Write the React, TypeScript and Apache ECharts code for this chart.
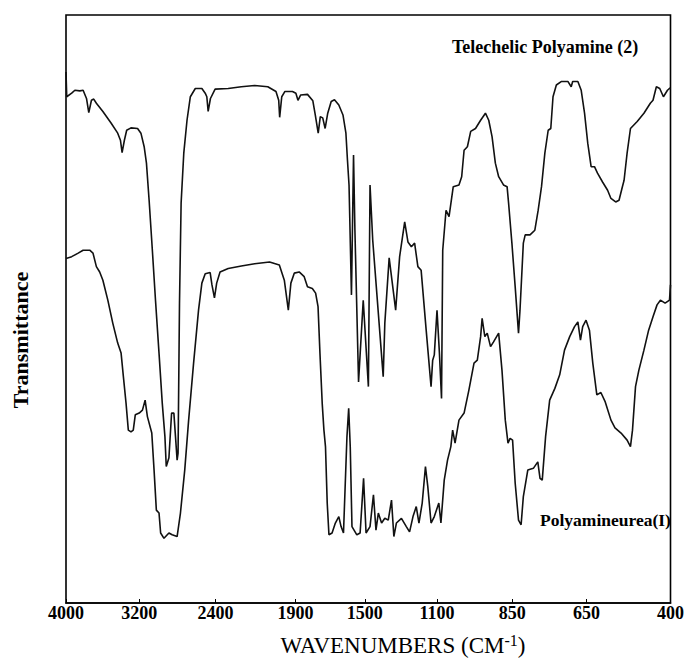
import React, { useEffect, useRef } from "react";
import * as echarts from "echarts";

// Axis ticks (wavenumber scale of the instrument is not linear: ticks sit at these positions)
const TICK_WAVENUMBERS = [4000, 3200, 2400, 1900, 1500, 1100, 850, 650, 400];
const TICK_LABELS = ["4000", "3200", "2400", "1900", "1500", "1100", "850", "650", "400"];
const TICK_POSITIONS = [0, 74, 151, 232, 302, 375, 451, 526, 611];

// [wavenumber (cm-1), transmittance (arb. %)]
const TELECHELIC: [number, number][] = [
  [4000, 90.3], [3992, 86.1], [3938, 86.7], [3903, 87.2], [3849, 87.1], [3813, 87.2], [3776, 85.8], [3751, 83.4],
  [3722, 85.5], [3697, 85.7], [3668, 85.0], [3597, 83.6], [3506, 81.6], [3435, 79.9], [3405, 78.7], [3387, 76.6],
  [3362, 78.7], [3337, 80.4], [3290, 80.8], [3218, 80.7], [3182, 79.9], [3148, 77.6], [3124, 74.8], [3096, 68.5],
  [3062, 60.0], [3029, 51.5], [2992, 42.5], [2958, 34.0], [2930, 28.3], [2916, 23.2], [2888, 24.7], [2860, 32.3],
  [2836, 32.3], [2819, 28.3], [2802, 24.3], [2792, 25.5], [2777, 51.0], [2760, 68.0], [2732, 76.5], [2698, 82.1],
  [2663, 86.1], [2611, 87.5], [2542, 87.5], [2507, 86.7], [2490, 86.1], [2476, 83.6], [2452, 85.8], [2403, 87.4],
  [2320, 87.5], [2238, 87.8], [2155, 88.0], [2073, 87.8], [2022, 87.0], [2005, 85.5], [1999, 82.6], [1986, 86.1],
  [1966, 87.0], [1919, 87.0], [1898, 86.7], [1886, 85.5], [1870, 86.4], [1831, 86.5], [1800, 85.4], [1786, 83.0],
  [1769, 79.9], [1757, 82.7], [1743, 82.5], [1729, 80.7], [1714, 83.3], [1694, 85.3], [1675, 85.6], [1650, 84.7],
  [1626, 83.0], [1609, 79.9], [1600, 75.3], [1591, 71.1], [1577, 52.4], [1565, 76.2], [1557, 63.4], [1536, 37.6],
  [1509, 51.5], [1480, 36.8], [1471, 71.1], [1456, 61.7], [1398, 38.5], [1389, 47.6], [1365, 58.7], [1329, 49.8],
  [1307, 58.9], [1279, 64.8], [1261, 61.4], [1242, 60.6], [1224, 61.2], [1206, 57.2], [1188, 56.6], [1160, 46.4],
  [1133, 36.8], [1124, 41.3], [1115, 42.2], [1100, 49.8], [1092, 42.5], [1085, 34.8], [1081, 60.0], [1070, 66.8],
  [1060, 65.7], [1046, 70.8], [1027, 71.1], [1018, 72.5], [1010, 77.0], [999, 77.6], [988, 80.2], [972, 80.7],
  [955, 82.1], [939, 83.3], [928, 82.1], [917, 79.3], [906, 74.8], [895, 72.5], [879, 71.1], [867, 70.8],
  [862, 68.0], [851, 61.2], [842, 53.8], [833, 45.9], [829, 49.8], [820, 61.2], [815, 62.6], [802, 62.6],
  [789, 63.4], [780, 66.8], [771, 70.8], [762, 76.5], [753, 80.4], [746, 80.7], [740, 86.1], [731, 88.1],
  [717, 88.7], [700, 88.7], [691, 87.8], [687, 88.7], [673, 88.7], [664, 87.2], [655, 83.3], [646, 78.2],
  [636, 74.2], [626, 74.2], [617, 73.1], [602, 71.6], [587, 70.2], [577, 68.8], [563, 68.2], [553, 68.5],
  [543, 70.8], [538, 71.9], [529, 76.5], [519, 80.7], [499, 81.9], [479, 83.3], [460, 85.0], [452, 85.5],
  [442, 87.8], [432, 87.5], [421, 86.1], [409, 87.2], [401, 87.6],
];

const POLYAMINEUREA: [number, number][] = [
  [4000, 58.6], [3938, 58.9], [3867, 59.5], [3813, 60.0], [3741, 60.0], [3705, 59.5], [3668, 57.2], [3632, 56.3],
  [3597, 54.9], [3543, 51.5], [3489, 47.6], [3435, 44.2], [3398, 42.5], [3373, 38.5], [3344, 34.0], [3319, 29.4],
  [3290, 29.1], [3265, 29.4], [3243, 32.0], [3200, 32.3], [3166, 32.8], [3138, 34.5], [3114, 31.7], [3068, 28.9],
  [3044, 22.6], [3020, 15.8], [2992, 15.3], [2975, 11.9], [2940, 11.0], [2888, 11.9], [2854, 11.6], [2802, 11.3],
  [2767, 15.3], [2722, 22.6], [2681, 31.1], [2629, 40.8], [2577, 49.8], [2542, 54.4], [2507, 56.0], [2455, 56.2],
  [2436, 54.1], [2410, 51.9], [2392, 54.4], [2371, 56.3], [2320, 56.9], [2238, 57.3], [2155, 57.7], [2062, 58.0],
  [2001, 57.5], [1970, 54.9], [1945, 49.8], [1929, 54.4], [1908, 56.1], [1879, 56.3], [1850, 55.5], [1831, 53.8],
  [1803, 53.5], [1784, 52.7], [1770, 50.4], [1759, 42.5], [1746, 34.0], [1736, 29.4], [1727, 26.6], [1717, 17.0],
  [1707, 11.6], [1689, 11.9], [1670, 13.6], [1650, 14.7], [1637, 13.0], [1623, 11.9], [1603, 28.3], [1593, 33.1],
  [1584, 26.6], [1574, 13.0], [1546, 11.6], [1527, 11.9], [1507, 21.2], [1493, 11.9], [1471, 13.0], [1452, 18.4],
  [1438, 12.4], [1425, 15.3], [1407, 13.6], [1389, 14.4], [1370, 14.1], [1352, 17.5], [1339, 11.3], [1325, 13.6],
  [1297, 14.4], [1270, 13.0], [1252, 12.1], [1233, 14.7], [1215, 16.4], [1200, 13.6], [1182, 17.0], [1164, 23.2],
  [1151, 19.8], [1133, 13.6], [1115, 14.7], [1094, 17.0], [1087, 13.6], [1076, 20.9], [1065, 24.3], [1054, 26.6],
  [1048, 29.4], [1040, 27.2], [1027, 31.1], [1010, 32.3], [994, 36.2], [977, 40.8], [966, 41.3], [955, 45.3],
  [950, 48.4], [941, 45.3], [933, 45.9], [922, 43.6], [912, 44.4], [895, 45.9], [884, 39.6], [873, 31.1],
  [864, 27.2], [857, 28.0], [849, 27.7], [842, 20.4], [833, 14.1], [826, 13.3], [820, 18.1], [808, 22.6],
  [793, 22.9], [781, 24.0], [775, 21.2], [769, 20.9], [760, 28.3], [749, 34.5], [735, 36.5], [722, 38.8],
  [709, 43.0], [695, 45.3], [682, 47.0], [673, 47.8], [666, 44.7], [660, 47.0], [651, 48.1], [641, 46.4],
  [631, 40.8], [619, 35.4], [607, 35.8], [594, 34.2], [577, 31.1], [565, 29.8], [547, 28.9], [529, 27.7],
  [519, 26.6], [513, 29.4], [504, 36.8], [494, 39.6], [479, 43.0], [465, 46.4], [452, 48.7], [440, 50.7],
  [430, 51.5], [416, 51.0], [403, 51.5], [400, 54.1],
];

const SERIES_NAMES = ["Telechelic Polyamine (2)", "Polyamineurea(I)"];

function wnToPos(w: number): number {
  const W = TICK_WAVENUMBERS;
  const P = TICK_POSITIONS;
  for (let i = 0; i < W.length - 1; i++) {
    const a = W[i];
    const b = W[i + 1];
    if (w <= a && w >= b) return P[i] + ((a - w) / (a - b)) * (P[i + 1] - P[i]);
  }
  return w > W[0] ? P[0] : P[P.length - 1];
}

const SERIF = "'Liberation Serif', 'Times New Roman', serif";

export default function App() {
  const ref = useRef<HTMLDivElement>(null);
  useEffect(() => {
    if (!ref.current) return;
    const chart = echarts.init(ref.current, undefined, { renderer: "svg" });
    const toData = (arr: [number, number][]) => arr.map(([w, t]) => [wnToPos(w), t]);
    chart.setOption({
      animation: false,
      backgroundColor: "#fff",
      grid: {
        left: 66,
        right: 10,
        top: 15,
        bottom: 66,
        show: true,
        borderColor: "#000",
        borderWidth: 1.6,
        backgroundColor: "transparent",
      },
      xAxis: {
        type: "value",
        min: 0,
        max: TICK_POSITIONS[TICK_POSITIONS.length - 1],
        axisLine: { show: true, lineStyle: { color: "#000", width: 1.6 } },
        axisTick: {
          show: true,
          inside: true,
          length: 4,
          customValues: TICK_POSITIONS,
          lineStyle: { color: "#000", width: 1 },
        },
        axisLabel: {
          customValues: TICK_POSITIONS,
          formatter: (v: number) => {
            const i = TICK_POSITIONS.indexOf(v);
            return i >= 0 ? TICK_LABELS[i] : "";
          },
          color: "#000",
          fontFamily: SERIF,
          fontWeight: "bold",
          fontSize: 18,
          margin: 1,
        },
        splitLine: { show: false },
      },
      yAxis: {
        type: "value",
        min: 0,
        max: 100,
        axisLine: { show: false },
        axisTick: { show: false },
        axisLabel: { show: false },
        splitLine: { show: false },
      },
      series: [
        {
          name: SERIES_NAMES[0],
          type: "line",
          data: toData(TELECHELIC),
          showSymbol: false,
          lineStyle: { color: "#111", width: 1.6 },
        },
        {
          name: SERIES_NAMES[1],
          type: "line",
          data: toData(POLYAMINEUREA),
          showSymbol: false,
          lineStyle: { color: "#111", width: 1.6 },
        },
      ],
      graphic: [
        {
          type: "text",
          x: 452,
          y: 47,
          style: {
            text: SERIES_NAMES[0],
            fontFamily: SERIF,
            fontWeight: "bold",
            fontSize: 18,
            fill: "#000",
            verticalAlign: "middle",
            align: "left",
          },
        },
        {
          type: "text",
          x: 540,
          y: 520,
          style: {
            text: SERIES_NAMES[1],
            fontFamily: SERIF,
            fontWeight: "bold",
            fontSize: 17.5,
            fill: "#000",
            verticalAlign: "middle",
            align: "left",
          },
        },
        {
          type: "text",
          x: 20,
          y: 340,
          rotation: Math.PI / 2,
          style: {
            text: "Transmittance",
            fontFamily: SERIF,
            fontWeight: "bold",
            fontSize: 22,
            fill: "#000",
            verticalAlign: "middle",
            align: "center",
          },
        },
        {
          type: "text",
          x: 403,
          y: 645,
          style: {
            text: "{a|WAVENUMBERS (CM}{s|-1}{a|)}",
            fill: "#000",
            align: "center",
            verticalAlign: "middle",
            rich: {
              a: { fontFamily: SERIF, fontSize: 23, fill: "#000" },
              s: { fontFamily: SERIF, fontSize: 16, fill: "#000", padding: [0, 0, 10, 0] },
            },
          },
        },
      ],
    });
    return () => chart.dispose();
  }, []);
  return (
    <div
      ref={ref}
      style={{ position: "fixed", left: 0, top: 0, width: 687, height: 669, background: "#fff" }}
    />
  );
}
